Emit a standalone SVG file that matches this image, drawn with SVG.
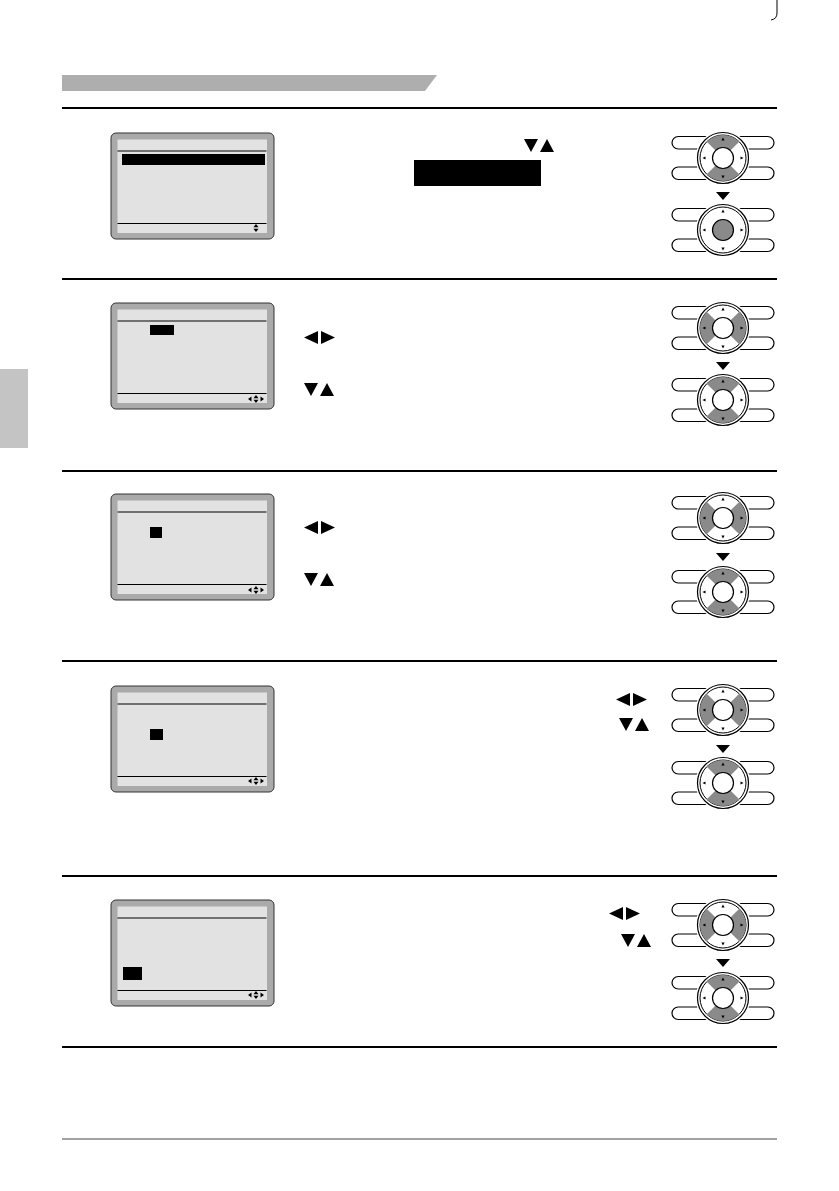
<svg xmlns="http://www.w3.org/2000/svg" xmlns:xlink="http://www.w3.org/1999/xlink" width="839" height="1191" viewBox="0 0 839 1191">
<style>
.rule{stroke:#000;stroke-width:2;fill:none}
.frame{fill:#aaaaaa;stroke:#333;stroke-width:1}
.lcd{fill:#e2e2e2}
.lcdline{stroke:#000;stroke-width:1.2}
.hl{fill:#000}
.pill{fill:#fff;stroke:#000;stroke-width:1.2}
.sec{fill:#8a8a8a}
.blk{fill:#000}
</style>
<defs>
<g id="scr">
<rect class="frame" x="111" y="0" width="163" height="106" rx="5"/>
<rect class="lcd" x="117.5" y="6.5" width="149.5" height="93.5"/>
<line class="lcdline" x1="117.5" y1="18" x2="266.5" y2="18"/>
<line class="lcdline" x1="117.5" y1="90.5" x2="266.5" y2="90.5"/>
</g>
<g id="i4">
<polygon class="blk" points="248,0 251.5,-2.5 251.5,2.5"/>
<polygon class="blk" points="253.5,-0.8 256,-4 258.5,-0.8"/>
<polygon class="blk" points="253.5,0.8 256,4 258.5,0.8"/>
<polygon class="blk" points="264,0 260.5,-2.5 260.5,2.5"/>
</g>
<g id="lr">
<polygon points="14,0 14,13 0,6.5"/>
<polygon points="17,0 17,13 31,6.5"/>
</g>
<g id="du">
<polygon points="0,0 14,0 7,13"/>
<polygon points="16,13 30,13 23,0"/>
</g>
<g id="rb">
<rect class="pill" x="-51" y="-21.5" width="42" height="12.5" rx="6.25"/>
<rect class="pill" x="-51" y="9" width="42" height="12.5" rx="6.25"/>
<rect class="pill" x="9" y="-21.5" width="42" height="12.5" rx="6.25"/>
<rect class="pill" x="9" y="9" width="42" height="12.5" rx="6.25"/>
<circle r="27.5" fill="#fff"/>
<circle r="25.5" fill="#fff" stroke="#000" stroke-width="1.2"/>
<circle r="23" fill="#fff" stroke="#000" stroke-width="1"/>
</g>
<path id="sU" class="sec" d="M-16.26,-16.26 A23,23 0 0 1 16.26,-16.26 L7.42,-7.42 A10.5,10.5 0 0 0 -7.42,-7.42 Z"/>
<path id="sD" class="sec" d="M-16.26,16.26 A23,23 0 0 0 16.26,16.26 L7.42,7.42 A10.5,10.5 0 0 1 -7.42,7.42 Z"/>
<path id="sL" class="sec" d="M-16.26,-16.26 A23,23 0 0 0 -16.26,16.26 L-7.42,7.42 A10.5,10.5 0 0 1 -7.42,-7.42 Z"/>
<path id="sR" class="sec" d="M16.26,-16.26 A23,23 0 0 1 16.26,16.26 L7.42,7.42 A10.5,10.5 0 0 0 7.42,-7.42 Z"/>
<g id="ro">
<circle r="10.5" fill="none" stroke="#000" stroke-width="1.2"/>
<polygon class="blk" points="-1.6,-17.5 1.6,-17.5 0,-20.5"/>
<polygon class="blk" points="-1.6,17.5 1.6,17.5 0,20.5"/>
<polygon class="blk" points="-17.5,-1.6 -17.5,1.6 -20.5,0"/>
<polygon class="blk" points="17.5,-1.6 17.5,1.6 20.5,0"/>
</g>
<polygon id="da" points="0,0 14,0 7,8"/>
</defs>
<rect width="839" height="1191" fill="#fff"/>

<g id="page">
<polygon points="62,75 437,75 425,91 62,91" fill="#aeaeae"/>
<rect x="0" y="369" width="28" height="79" fill="#c4c4c4"/>
<path d="M777,0 L777,13 Q777,19 771,20" fill="none" stroke="#000" stroke-width="1"/>
<line class="rule" x1="62" y1="108" x2="777" y2="108"/>
<line class="rule" x1="62" y1="279" x2="777" y2="279"/>
<line class="rule" x1="62" y1="471" x2="777" y2="471"/>
<line class="rule" x1="62" y1="661" x2="777" y2="661"/>
<line class="rule" x1="62" y1="876" x2="777" y2="876"/>
<line class="rule" x1="62" y1="1047" x2="777" y2="1047"/>
<line x1="62" y1="1139" x2="777" y2="1139" stroke="#444" stroke-width="1"/>
</g>

<g id="screen1">
<use href="#scr" y="133"/>
<rect class="hl" x="122" y="154" width="143" height="11"/>
<polygon class="blk" points="253.5,227.2 256,224 258.5,227.2"/>
<polygon class="blk" points="253.5,228.8 256,232 258.5,228.8"/>
</g>
<g id="screen2">
<use href="#scr" y="303"/>
<rect class="hl" x="150" y="325" width="24" height="10"/>
<use href="#i4" y="399"/>
</g>
<g id="screen3">
<use href="#scr" y="494"/>
<rect class="hl" x="150" y="527" width="12" height="11"/>
<use href="#i4" y="590"/>
</g>
<g id="screen4">
<use href="#scr" y="686"/>
<rect class="hl" x="150" y="729" width="13" height="11"/>
<use href="#i4" y="781"/>
</g>
<g id="screen5">
<use href="#scr" y="900"/>
<rect class="hl" x="123" y="967" width="19" height="13"/>
<use href="#i4" y="995"/>
</g>

<g id="keys1">
<use href="#du" x="524" y="139"/>
<rect class="hl" x="414" y="160" width="127" height="26"/>
</g>
<g id="keys2">
<use href="#lr" x="304" y="331"/>
<use href="#du" x="304" y="383"/>
</g>
<g id="keys3">
<use href="#lr" x="304" y="521"/>
<use href="#du" x="304" y="573"/>
</g>
<g id="keys4">
<use href="#lr" x="616" y="693"/>
<use href="#du" x="619" y="718"/>
</g>
<g id="keys5">
<use href="#lr" x="609" y="907"/>
<use href="#du" x="621" y="934"/>
</g>

<g id="remote1a"><use href="#rb" x="723" y="158"/><use href="#sU" x="723" y="158"/><use href="#sD" x="723" y="158"/><use href="#ro" x="723" y="158"/></g>
<g id="remote1b"><use href="#rb" x="723" y="230"/><circle cx="723" cy="230" r="10.5" class="sec"/><use href="#ro" x="723" y="230"/></g>
<g id="remote2a"><use href="#rb" x="723" y="328"/><use href="#sL" x="723" y="328"/><use href="#sR" x="723" y="328"/><use href="#ro" x="723" y="328"/></g>
<g id="remote2b"><use href="#rb" x="723" y="400"/><use href="#sU" x="723" y="400"/><use href="#sD" x="723" y="400"/><use href="#ro" x="723" y="400"/></g>
<g id="remote3a"><use href="#rb" x="723" y="518"/><use href="#sL" x="723" y="518"/><use href="#sR" x="723" y="518"/><use href="#ro" x="723" y="518"/></g>
<g id="remote3b"><use href="#rb" x="723" y="592"/><use href="#sU" x="723" y="592"/><use href="#sD" x="723" y="592"/><use href="#ro" x="723" y="592"/></g>
<g id="remote4a"><use href="#rb" x="723" y="710"/><use href="#sL" x="723" y="710"/><use href="#sR" x="723" y="710"/><use href="#ro" x="723" y="710"/></g>
<g id="remote4b"><use href="#rb" x="723" y="783"/><use href="#sU" x="723" y="783"/><use href="#sD" x="723" y="783"/><use href="#ro" x="723" y="783"/></g>
<g id="remote5a"><use href="#rb" x="723" y="925"/><use href="#sL" x="723" y="925"/><use href="#sR" x="723" y="925"/><use href="#ro" x="723" y="925"/></g>
<g id="remote5b"><use href="#rb" x="723" y="998"/><use href="#sU" x="723" y="998"/><use href="#sD" x="723" y="998"/><use href="#ro" x="723" y="998"/></g>

<g id="connectors">
<use href="#da" x="716" y="192"/>
<use href="#da" x="716" y="362"/>
<use href="#da" x="716" y="553"/>
<use href="#da" x="716" y="745"/>
<use href="#da" x="716" y="959"/>
</g>
</svg>
